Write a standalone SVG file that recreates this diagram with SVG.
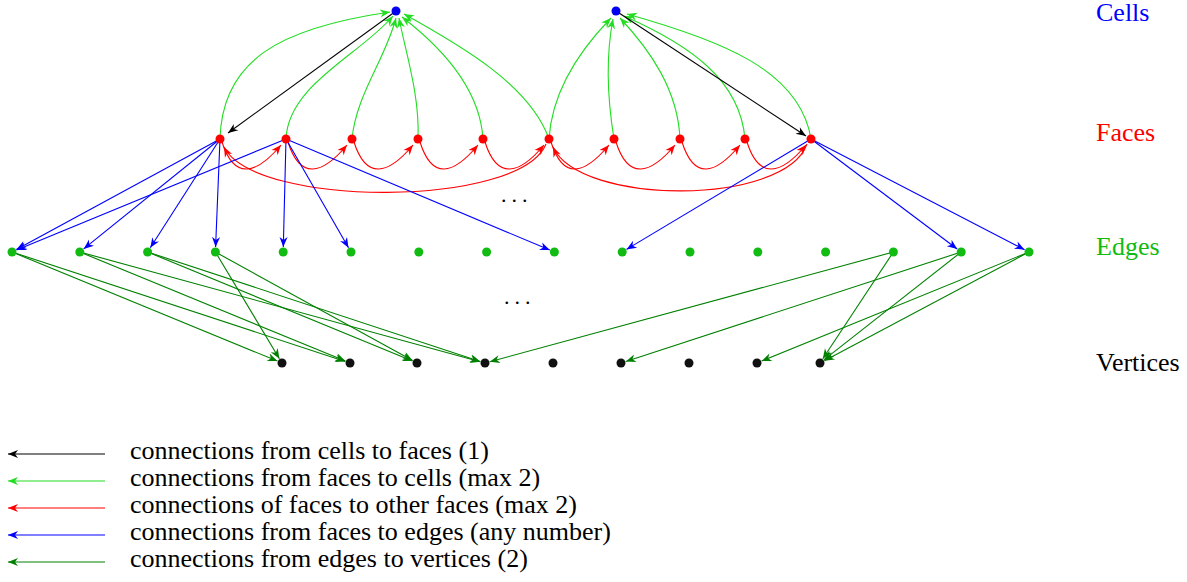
<svg xmlns="http://www.w3.org/2000/svg" width="1187" height="582" viewBox="0 0 1187 582">
<style>
.t{font-family:"Liberation Serif","DejaVu Serif","Noto Serif","Times New Roman",Times,serif;font-size:26px}
.c{fill:none;stroke-width:1.1}
.k{stroke:#000;marker-end:url(#mk)}
.g{stroke:#22dd22;marker-end:url(#mg)}
.r{stroke:#ff0000;marker-end:url(#mr)}
.b{stroke:#0000ff;marker-end:url(#mb)}
.d{stroke:#008000;marker-end:url(#md)}
.cell{fill:#0000ee}.face{fill:#ff0000}.edge{fill:#11bb11}.vert{fill:#111}
</style>
<defs>
<marker id="mk" markerUnits="userSpaceOnUse" markerWidth="10" markerHeight="8" refX="10" refY="4" orient="auto" overflow="visible"><path d="M0,0 L10,4 L0,8 L3,4 Z" fill="#000"/></marker>
<marker id="mg" markerUnits="userSpaceOnUse" markerWidth="10" markerHeight="8" refX="10" refY="4" orient="auto" overflow="visible"><path d="M0,0 L10,4 L0,8 L3,4 Z" fill="#22dd22"/></marker>
<marker id="mr" markerUnits="userSpaceOnUse" markerWidth="10" markerHeight="8" refX="10" refY="4" orient="auto" overflow="visible"><path d="M0,0 L10,4 L0,8 L3,4 Z" fill="#ff0000"/></marker>
<marker id="mb" markerUnits="userSpaceOnUse" markerWidth="10" markerHeight="8" refX="10" refY="4" orient="auto" overflow="visible"><path d="M0,0 L10,4 L0,8 L3,4 Z" fill="#0000ff"/></marker>
<marker id="md" markerUnits="userSpaceOnUse" markerWidth="10" markerHeight="8" refX="10" refY="4" orient="auto" overflow="visible"><path d="M0,0 L10,4 L0,8 L3,4 Z" fill="#008000"/></marker>
</defs>
<rect width="1187" height="582" fill="#fff"/>
<g id="connectors">
<path class="c g" d="M220,139 C222,60 280,28 390,12"/>
<path class="c g" d="M286,139 C288,85 360,55 393,16"/>
<path class="c g" d="M352,139 C356,95 385,60 396,18"/>
<path class="c g" d="M418,139 C420,95 405,50 399,18"/>
<path class="c g" d="M483,139 C480,90 445,50 402,17"/>
<path class="c g" d="M549,139 C530,85 460,45 404,14"/>
<path class="c g" d="M549,139 C552,90 580,50 611,18"/>
<path class="c g" d="M614,139 C606,90 607,50 613,19"/>
<path class="c g" d="M680,139 C678,90 650,50 620,18"/>
<path class="c g" d="M745,139 C740,80 690,45 624,16"/>
<path class="c g" d="M811,139 C800,70 720,40 627,14"/>
<path class="c k" d="M396,11 L228,133"/>
<path class="c k" d="M616,11 L806,136"/>
<path class="c r" d="M222,142 C234,180 256,175 281,145"/>
<path class="c r" d="M288,142 C300,180 322,175 347,145"/>
<path class="c r" d="M354,142 C366,180 388,175 413,145"/>
<path class="c r" d="M420,142 C432,180 453,175 478,145"/>
<path class="c r" d="M485,142 C497,180 519,175 544,145"/>
<path class="c r" d="M551,142 C563,180 584,175 609,145"/>
<path class="c r" d="M616,142 C628,180 650,175 675,145"/>
<path class="c r" d="M682,142 C694,180 715,175 740,145"/>
<path class="c r" d="M747,142 C759,180 781,175 806,145"/>
<path class="c r" d="M546,144 C520,208 255,208 224,147"/>
<path class="c r" d="M807,144 C785,206 580,206 553,147"/>
<path class="c b" d="M220,139 L16.4,249.6"/>
<path class="c b" d="M220,139 L83.7,248.9"/>
<path class="c b" d="M220,139 L150.3,247.8"/>
<path class="c b" d="M220,139 L215.6,247"/>
<path class="c b" d="M286,139 L16.6,250.1"/>
<path class="c b" d="M286,139 L283.3,247"/>
<path class="c b" d="M286,139 L348.5,247.7"/>
<path class="c b" d="M286,139 L549.8,250.1"/>
<path class="c b" d="M811,139 L626.5,249.4"/>
<path class="c b" d="M811,139 L957.2,249"/>
<path class="c b" d="M811,139 L1024.6,249.7"/>
<path class="c d" d="M12,252 L277.4,361.1"/>
<path class="c d" d="M12,252 L345.2,361.4"/>
<path class="c d" d="M79.8,252 L345.4,361.1"/>
<path class="c d" d="M79.8,252 L480.2,361.7"/>
<path class="c d" d="M147.6,252 L412.4,361.1"/>
<path class="c d" d="M147.6,252 L480.2,361.4"/>
<path class="c d" d="M215.4,252 L279.4,358.7"/>
<path class="c d" d="M215.4,252 L412.6,360.6"/>
<path class="c d" d="M893.4,252 L489.8,361.7"/>
<path class="c d" d="M893.4,252 L822.8,358.8"/>
<path class="c d" d="M961.2,252 L625.8,361.4"/>
<path class="c d" d="M961.2,252 L823.9,359.9"/>
<path class="c d" d="M1029,252 L761.6,361.1"/>
<path class="c d" d="M1029,252 L824.4,360.7"/>
</g>
<g id="cells">
<circle id="cell1" class="cell" cx="396" cy="11" r="4.5"/>
<circle id="cell2" class="cell" cx="616" cy="11" r="4.5"/>
</g>
<g id="faces">
<circle id="face1" class="face" cx="220" cy="139" r="4.5"/>
<circle id="face2" class="face" cx="286" cy="139" r="4.5"/>
<circle id="face3" class="face" cx="352" cy="139" r="4.5"/>
<circle id="face4" class="face" cx="418" cy="139" r="4.5"/>
<circle id="face5" class="face" cx="483" cy="139" r="4.5"/>
<circle id="face6" class="face" cx="549" cy="139" r="4.5"/>
<circle id="face7" class="face" cx="614" cy="139" r="4.5"/>
<circle id="face8" class="face" cx="680" cy="139" r="4.5"/>
<circle id="face9" class="face" cx="745" cy="139" r="4.5"/>
<circle id="face10" class="face" cx="811" cy="139" r="4.5"/>
</g>
<g id="edges">
<circle id="edge1" class="edge" cx="12" cy="252" r="4.5"/>
<circle id="edge2" class="edge" cx="79.8" cy="252" r="4.5"/>
<circle id="edge3" class="edge" cx="147.6" cy="252" r="4.5"/>
<circle id="edge4" class="edge" cx="215.4" cy="252" r="4.5"/>
<circle id="edge5" class="edge" cx="283.2" cy="252" r="4.5"/>
<circle id="edge6" class="edge" cx="351" cy="252" r="4.5"/>
<circle id="edge7" class="edge" cx="418.8" cy="252" r="4.5"/>
<circle id="edge8" class="edge" cx="486.6" cy="252" r="4.5"/>
<circle id="edge9" class="edge" cx="554.4" cy="252" r="4.5"/>
<circle id="edge10" class="edge" cx="622.2" cy="252" r="4.5"/>
<circle id="edge11" class="edge" cx="690" cy="252" r="4.5"/>
<circle id="edge12" class="edge" cx="757.8" cy="252" r="4.5"/>
<circle id="edge13" class="edge" cx="825.6" cy="252" r="4.5"/>
<circle id="edge14" class="edge" cx="893.4" cy="252" r="4.5"/>
<circle id="edge15" class="edge" cx="961.2" cy="252" r="4.5"/>
<circle id="edge16" class="edge" cx="1029" cy="252" r="4.5"/>
</g>
<g id="vertices">
<circle id="vertex1" class="vert" cx="282" cy="363" r="4.5"/>
<circle id="vertex2" class="vert" cx="350" cy="363" r="4.5"/>
<circle id="vertex3" class="vert" cx="417" cy="363" r="4.5"/>
<circle id="vertex4" class="vert" cx="485" cy="363" r="4.5"/>
<circle id="vertex5" class="vert" cx="553" cy="363" r="4.5"/>
<circle id="vertex6" class="vert" cx="621" cy="363" r="4.5"/>
<circle id="vertex7" class="vert" cx="689" cy="363" r="4.5"/>
<circle id="vertex8" class="vert" cx="757" cy="363" r="4.5"/>
<circle id="vertex9" class="vert" cx="820" cy="363" r="4.5"/>
</g>
<g id="dots" font-family="Liberation Serif, DejaVu Serif, serif" font-size="22" letter-spacing="5">
<text x="501" y="202">...</text>
<text x="504" y="304">...</text>
</g>
<g id="labels" class="t" font-family="Liberation Serif, DejaVu Serif, serif">
<text class="t" x="1096" y="21" fill="#0000ff">Cells</text>
<text class="t" x="1096" y="141" fill="#ff0000">Faces</text>
<text class="t" x="1096" y="255" fill="#11bb11">Edges</text>
<text class="t" x="1096" y="371" fill="#000">Vertices</text>
</g>
<g id="legend">
<path class="c k" d="M105,454 L8,454"/>
<path class="c g" d="M105,481 L8,481"/>
<path class="c r" d="M105,508 L8,508"/>
<path class="c b" d="M105,535 L8,535"/>
<path class="c d" d="M105,562 L8,562"/>
<g class="t" font-family="Liberation Serif, DejaVu Serif, serif">
<text class="t" x="130" y="459">connections from cells to faces (1)</text>
<text class="t" x="130" y="486">connections from faces to cells (max 2)</text>
<text class="t" x="130" y="513">connections of faces to other faces (max 2)</text>
<text class="t" x="130" y="540">connections from faces to edges (any number)</text>
<text class="t" x="130" y="567">connections from edges to vertices (2)</text>
</g>
</g>
</svg>
